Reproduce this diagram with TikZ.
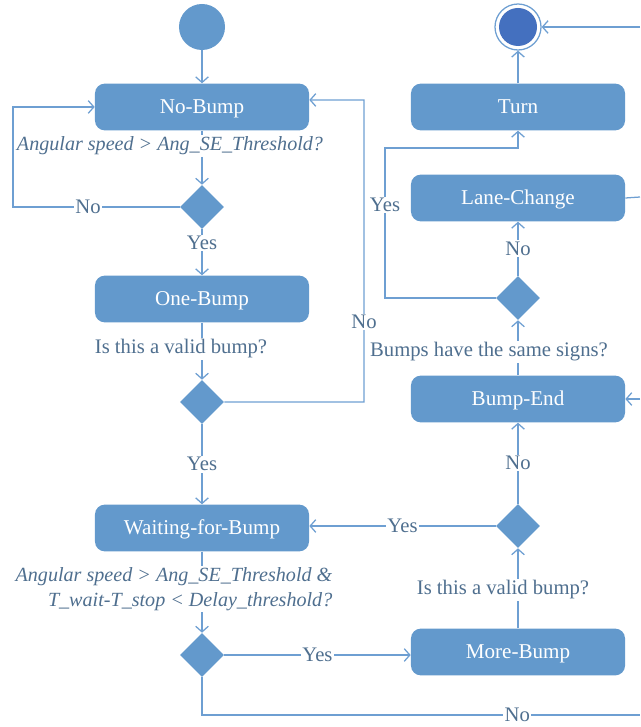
\documentclass[tikz,border=0pt]{standalone}
\usepackage{fontspec}
\setmainfont{Liberation Serif}
\usetikzlibrary{shapes.geometric,arrows.meta}
\definecolor{boxblue}{HTML}{6399CC}
\definecolor{lineblue}{HTML}{6E9FD2}
\definecolor{txtblue}{HTML}{4F6F8F}
\definecolor{endblue}{HTML}{4470BF}
\tikzset{
  state/.style={fill=boxblue, rounded corners=7pt, minimum width=5.35cm, minimum height=1.17cm, text=white, font=\fontsize{15}{17}\selectfont, text height=2.2ex, text depth=0.2ex},
  choice/.style={diamond, fill=boxblue, minimum width=1.1cm, minimum height=1.1cm, inner sep=0pt},
  lbl/.style={text=txtblue, font=\fontsize{14.7}{17}\selectfont, fill=white, inner sep=1pt},
  qlbl/.style={text=txtblue, font=\fontsize{14.3}{18}\selectfont\itshape, fill=white, inner sep=1pt},
  link/.style={draw=lineblue, line width=0.9pt},
  arr/.style={link, -{Straight Barb[length=4pt,width=9pt]}}
}
\begin{document}
\begin{tikzpicture}[x=0.025cm,y=-0.025cm]
  \useasboundingbox (0,0) rectangle (640,727);
  % left column
  \node[circle, fill=boxblue, minimum size=1.15cm, inner sep=0pt] (start) at (202,27) {};
  \node[state] (nobump) at (202,107) {No-Bump};
  \node[qlbl] (q1) at (170,146) {Angular speed > Ang\_SE\_Threshold?};
  \node[choice] (d1) at (202,207) {};
  \node[state] (onebump) at (202,299) {One-Bump};
  \node[lbl] (q2) at (181,349) {Is this a valid bump?};
  \node[choice] (d2) at (202,402) {};
  \node[state] (waiting) at (202,528) {Waiting-for-Bump};
  \node[qlbl, align=right, anchor=east] (q3) at (334,589) {Angular speed > Ang\_SE\_Threshold \&\\T\_wait-T\_stop < Delay\_threshold?};
  \node[choice] (d3) at (202,655) {};
  % right column
  \node[circle, draw=lineblue, line width=0.9pt, fill=white, minimum size=1.15cm, inner sep=0pt] (final) at (518,27) {};
  \node[circle, fill=endblue, minimum size=0.95cm, inner sep=0pt] (finalin) at (final.center) {};
  \node[state] (turn) at (518,107) {Turn};
  \node[state] (lane) at (518,198) {Lane-Change};
  \node[choice] (d5) at (518,298) {};
  \node[lbl] (q5) at (489,352) {Bumps have the same signs?};
  \node[state] (bumpend) at (518,399) {Bump-End};
  \node[choice] (d4) at (518,526) {};
  \node[lbl] (q4) at (503,590) {Is this a valid bump?};
  \node[state] (morebump) at (518,652) {More-Bump};
  % ends off the right edge
  \coordinate (inA) at (640,27);
  \coordinate (outB) at (640,197);
  \coordinate (inC) at (640,399);
  \coordinate (outD) at (640,715);

  \draw[arr] (start) -- (nobump);
  \draw[link] (nobump.south) -- (nobump.south |- q1.north);
  \draw[arr] (d1.north |- q1.south) -- (d1.north);
  \draw[arr] (d1.west) -- node[lbl, pos=0.55]{No} (13,207) |- (nobump.west);
  \draw[arr] (d1.south) -- node[lbl, pos=0.3]{Yes} (onebump.north);
  \draw[link] (onebump.south) -- (onebump.south |- q2.north);
  \draw[arr] (d2.north |- q2.south) -- (d2.north);
  \draw[arr] (d2.east) -- (364,402) -- node[lbl, pos=0.265]{No} (364,100) -- ([yshift=5pt]nobump.east);
  \draw[arr] (d2.south) -- node[lbl]{Yes} (waiting.north);
  \draw[link] (waiting.south) -- (waiting.south |- q3.north);
  \draw[arr] (d3.north |- q3.south) -- (d3.north);
  \draw[arr] (d3.east) -- node[lbl]{Yes} (d3.east -| morebump.west);
  \draw[link] (d3.south) |- node[lbl, pos=0.86]{No} (outD);

  \draw[link] (morebump.north) -- (morebump.north |- q4.south);
  \draw[arr] (d4.south |- q4.north) -- (d4.south);
  \draw[arr] (d4.west) -- node[lbl]{Yes} (d4.west -| waiting.east);
  \draw[arr] (d4.north) -- node[lbl]{No} (bumpend.south);
  \draw[arr] (inC) -- (bumpend.east);
  \draw[link] (bumpend.north) -- (bumpend.north |- q5.south);
  \draw[arr] (d5.south |- q5.north) -- (d5.south);
  \draw[arr] (d5.north) -- node[lbl]{No} (lane.south);
  \draw[arr] (d5.west) -- (385,298) -- node[lbl, pos=0.62]{Yes} (385,148) -| (turn.south);
  \draw[link] (lane.east) -- (outB);
  \draw[arr] (turn.north) -- (final.south);
  \draw[arr] (inA) -- (final.east);
\end{tikzpicture}
\end{document}
